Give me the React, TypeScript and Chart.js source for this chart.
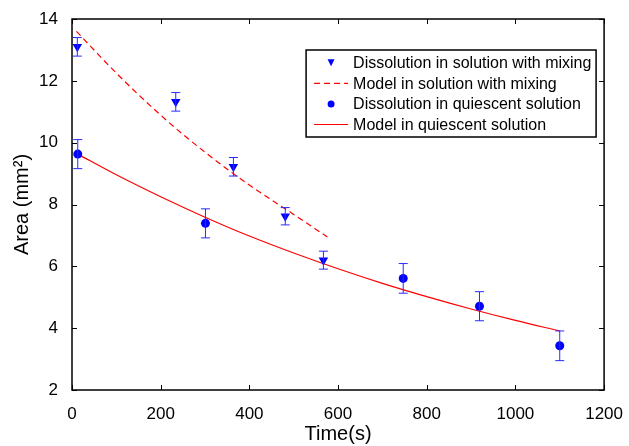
import React, { useEffect, useRef } from "react";
import { Chart, registerables } from "chart.js";

Chart.register(...registerables);

// ---- data ----
const mixTime = [12, 234, 364, 481, 567];
const mixArea = [13.1, 11.32, 9.22, 7.62, 6.2];
const mixErr = [0.3, 0.3, 0.3, 0.28, 0.29];

const quiTime = [13, 301, 747, 919, 1100];
const quiArea = [9.63, 7.39, 5.61, 4.71, 3.43];
const quiErr = [0.47, 0.47, 0.48, 0.47, 0.48];

const mixModelTime = [10, 100, 200, 300, 400, 500, 576];
const mixModelArea = [13.6, 12.25, 10.89, 9.69, 8.63, 7.68, 6.95];

const quiModelTime = [13, 100, 200, 300, 400, 500, 600, 700, 800, 900, 1000, 1100];
const quiModelArea = [9.63, 8.96, 8.25, 7.59, 6.98, 6.43, 5.92, 5.45, 5.02, 4.62, 4.25, 3.91];

const xTicks = [0, 200, 400, 600, 800, 1000, 1200];
const yTicks = [2, 4, 6, 8, 10, 12, 14];

const legendLabels = [
  "Dissolution in solution with mixing",
  "Model in solution with mixing",
  "Dissolution in quiescent solution",
  "Model in quiescent solution",
];

const FONT = "'Liberation Sans', Arial, Helvetica, sans-serif";
const BLUE = "#0000ff";
const RED = "#ff0000";

const zip = (xs: number[], ys: number[]) => xs.map((x, i) => ({ x, y: ys[i] }));

const errorBarPlugin = {
  id: "errorBars",
  afterDatasetsDraw(chart: any) {
    const { ctx, scales } = chart;
    const x = scales.x;
    const y = scales.y;
    const draw = (ts: number[], vs: number[], es: number[]) => {
      ts.forEach((t, i) => {
        const px = x.getPixelForValue(t);
        const top = y.getPixelForValue(vs[i] + es[i]);
        const bot = y.getPixelForValue(vs[i] - es[i]);
        ctx.beginPath();
        ctx.moveTo(px, top);
        ctx.lineTo(px, bot);
        ctx.moveTo(px - 4.5, top);
        ctx.lineTo(px + 4.5, top);
        ctx.moveTo(px - 4.5, bot);
        ctx.lineTo(px + 4.5, bot);
        ctx.stroke();
      });
    };
    ctx.save();
    ctx.strokeStyle = "#2a2aff";
    ctx.lineWidth = 1;
    draw(mixTime, mixArea, mixErr);
    draw(quiTime, quiArea, quiErr);
    ctx.restore();
  },
};

const framePlugin = {
  id: "frame",
  afterDraw(chart: any) {
    const { ctx, chartArea: a, scales } = chart;
    ctx.save();
    ctx.strokeStyle = "#000";
    ctx.lineWidth = 1.5;
    ctx.strokeRect(a.left, a.top, a.right - a.left, a.bottom - a.top);
    ctx.lineWidth = 1;
    ctx.beginPath();
    const tl = 5;
    xTicks.forEach((t) => {
      const px = Math.round(scales.x.getPixelForValue(t)) + 0.5;
      ctx.moveTo(px, a.bottom);
      ctx.lineTo(px, a.bottom - tl);
      ctx.moveTo(px, a.top);
      ctx.lineTo(px, a.top + tl);
    });
    yTicks.forEach((t) => {
      const py = Math.round(scales.y.getPixelForValue(t)) + 0.5;
      ctx.moveTo(a.left, py);
      ctx.lineTo(a.left + tl, py);
      ctx.moveTo(a.right, py);
      ctx.lineTo(a.right - tl, py);
    });
    ctx.stroke();

    // legend box
    const bx = a.right - 298;
    const by = a.top + 31;
    const bw = 290;
    const bh = 87;
    ctx.fillStyle = "#fff";
    ctx.fillRect(bx, by, bw, bh);
    ctx.lineWidth = 1.5;
    ctx.strokeStyle = "#000";
    ctx.strokeRect(bx, by, bw, bh);
    ctx.font = `16px ${FONT}`;
    ctx.fillStyle = "#000";
    ctx.textBaseline = "middle";
    ctx.textAlign = "left";
    const rowY = [12.7, 33.3, 54, 74.5];
    const symX = bx + 25;
    const lineX0 = bx + 8;
    const lineX1 = bx + 42;
    const textX = bx + 47;
    legendLabels.forEach((label, i) => {
      const yy = by + rowY[i];
      ctx.save();
      if (i === 0) {
        ctx.fillStyle = BLUE;
        ctx.beginPath();
        ctx.moveTo(symX - 3.5, yy - 3.5);
        ctx.lineTo(symX + 3.5, yy - 3.5);
        ctx.lineTo(symX, yy + 3.5);
        ctx.closePath();
        ctx.fill();
      } else if (i === 2) {
        ctx.fillStyle = BLUE;
        ctx.beginPath();
        ctx.arc(symX, yy, 3.5, 0, Math.PI * 2);
        ctx.fill();
      } else {
        ctx.strokeStyle = RED;
        ctx.lineWidth = 1.2;
        if (i === 1) ctx.setLineDash([6, 4]);
        ctx.beginPath();
        ctx.moveTo(lineX0, yy);
        ctx.lineTo(lineX1, yy);
        ctx.stroke();
      }
      ctx.restore();
      ctx.fillText(label, textX, yy + 1);
    });
    ctx.restore();
  },
};

export default function App() {
  const ref = useRef<HTMLCanvasElement>(null);
  useEffect(() => {
    document.body.style.margin = "0";
    const canvas = ref.current!;
    const chart = new Chart(canvas, {
      type: "scatter",
      data: {
        datasets: [
          {
            label: legendLabels[0],
            data: zip(mixTime, mixArea),
            pointStyle: "triangle",
            rotation: 180,
            pointRadius: 5.5,
            backgroundColor: BLUE,
            borderColor: BLUE,
            borderWidth: 0,
            showLine: false,
          },
          {
            label: legendLabels[1],
            data: zip(mixModelTime, mixModelArea),
            showLine: true,
            borderColor: RED,
            borderWidth: 1.2,
            borderDash: [6, 4],
            pointRadius: 0,
            cubicInterpolationMode: "monotone",
          },
          {
            label: legendLabels[2],
            data: zip(quiTime, quiArea),
            pointStyle: "circle",
            pointRadius: 4.5,
            backgroundColor: BLUE,
            borderColor: BLUE,
            borderWidth: 0,
            showLine: false,
          },
          {
            label: legendLabels[3],
            data: zip(quiModelTime, quiModelArea),
            showLine: true,
            borderColor: RED,
            borderWidth: 1.2,
            pointRadius: 0,
            cubicInterpolationMode: "monotone",
          },
        ],
      },
      options: {
        animation: false,
        responsive: false,
        devicePixelRatio: 1,
        layout: { padding: { top: 19, right: 24, left: 0, bottom: 0 } },
        plugins: {
          legend: { display: false },
          tooltip: { enabled: false },
        },
        scales: {
          x: {
            type: "linear",
            min: 0,
            max: 1200,
            afterBuildTicks: (s: any) => {
              s.ticks = xTicks.map((v) => ({ value: v }));
            },
            afterFit: (s: any) => {
              s.height = 56;
            },
            grid: { display: false },
            border: { display: false },
            ticks: {
              color: "#000",
              font: { family: FONT, size: 17 },
              padding: 6,
              maxRotation: 0,
              callback: (v: any) => String(v),
            },
            title: {
              display: true,
              text: "Time(s)",
              color: "#000",
              font: { family: FONT, size: 20 },
              padding: { top: 0, bottom: 0 },
            },
          },
          y: {
            type: "linear",
            min: 2,
            max: 14,
            afterBuildTicks: (s: any) => {
              s.ticks = yTicks.map((v) => ({ value: v }));
            },
            afterFit: (s: any) => {
              s.width = 72;
            },
            grid: { display: false },
            border: { display: false },
            ticks: {
              color: "#000",
              font: { family: FONT, size: 17 },
              padding: 6,
              callback: (v: any) => String(v),
            },
            title: {
              display: true,
              text: "Area (mm\u00B2)",
              color: "#000",
              font: { family: FONT, size: 20 },
              padding: { top: 10, bottom: 0 },
            },
          },
        },
      },
      plugins: [errorBarPlugin, framePlugin],
    } as any);
    return () => chart.destroy();
  }, []);
  return (
    <div style={{ width: 629, height: 446, background: "#fff" }}>
      <canvas ref={ref} width={629} height={446} style={{ display: "block" }} />
    </div>
  );
}
